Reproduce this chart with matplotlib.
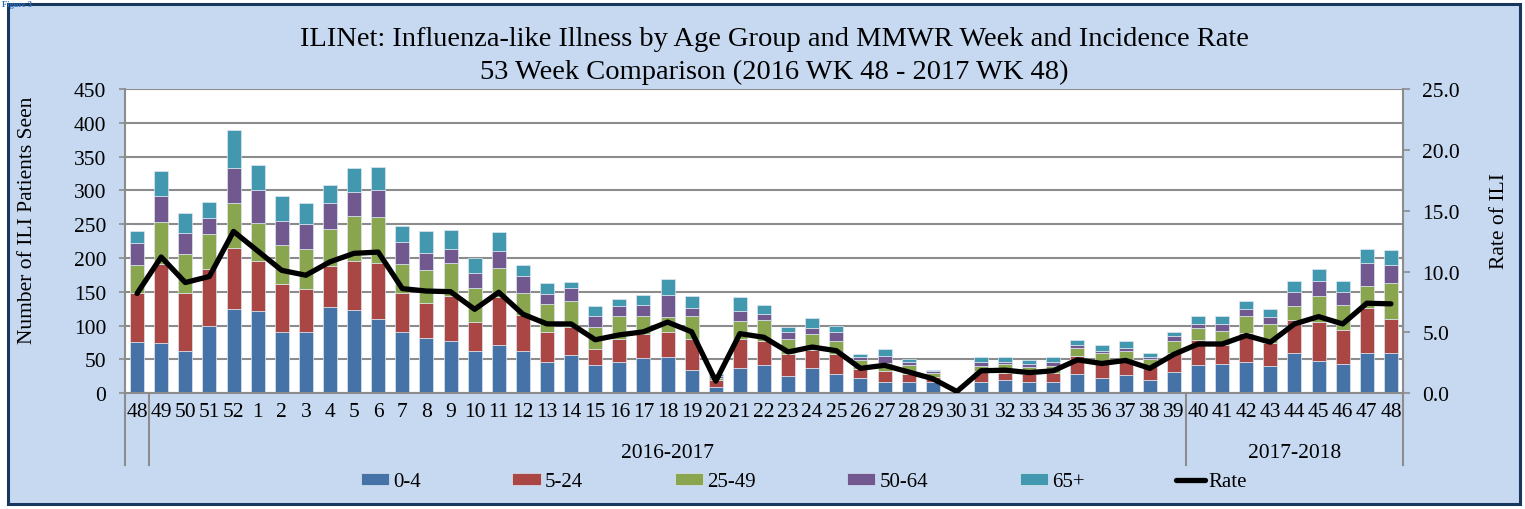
import matplotlib
matplotlib.use("Agg")
import matplotlib.pyplot as plt
import numpy as np
from matplotlib.patches import Rectangle

weeks = ["48", "49", "50", "51", "52"] + [str(i) for i in range(1, 49)]

age_0_4 = [76, 74, 63, 99, 125, 121, 90, 90, 128, 123, 110, 90, 82, 77, 63, 72, 63, 46, 57, 42,
           47, 52, 54, 35, 9, 37, 42, 26, 37, 28, 23, 16, 17, 17, 1, 17, 19, 17, 16, 28,
           22, 27, 19, 31, 42, 44, 46, 40, 59, 48, 43, 60, 60]
age_5_24 = [73, 117, 86, 85, 90, 75, 71, 64, 60, 72, 83, 59, 52, 67, 43, 70, 53, 45, 41, 24,
            34, 36, 36, 45, 10, 44, 36, 32, 27, 30, 13, 17, 11, 7, 1, 16, 11, 11, 14, 27,
            21, 19, 22, 29, 37, 27, 43, 35, 49, 57, 50, 66, 50]
age_25_49 = [41, 62, 57, 51, 66, 56, 58, 59, 55, 67, 68, 42, 49, 48, 49, 43, 32, 41, 39, 32,
             33, 27, 23, 35, 4, 26, 31, 22, 24, 19, 13, 12, 14, 6, 0, 7, 13, 11, 10, 12,
             16, 16, 9, 18, 17, 21, 25, 27, 21, 39, 37, 33, 53]
age_50_64 = [32, 39, 31, 24, 52, 48, 36, 38, 39, 36, 40, 33, 25, 21, 23, 26, 26, 15, 18, 17,
             15, 16, 32, 11, 3, 14, 9, 10, 9, 13, 4, 10, 4, 3, 0, 7, 3, 4, 7, 5,
             4, 5, 4, 7, 7, 10, 10, 11, 21, 22, 20, 34, 27]
age_65_plus = [18, 36, 29, 24, 57, 37, 37, 30, 26, 35, 34, 24, 32, 28, 22, 27, 15, 16, 10, 14,
               10, 15, 24, 18, 2, 21, 12, 8, 14, 10, 5, 11, 4, 2, 0, 6, 8, 6, 7, 7,
               8, 11, 6, 5, 12, 13, 12, 11, 16, 18, 16, 20, 22]
rate = [8.2, 11.2, 9.1, 9.6, 13.3, 11.7, 10.1, 9.7, 10.8, 11.5, 11.6, 8.6, 8.4, 8.35, 6.9, 8.3,
        6.5, 5.7, 5.7, 4.4, 4.8, 5.05, 5.85, 5.05, 1.0, 4.9, 4.6, 3.4, 3.8, 3.5, 2.05, 2.3,
        1.75, 1.2, 0.15, 1.85, 1.9, 1.7, 1.85, 2.75, 2.45, 2.7, 2.05, 3.2, 4.05, 4.05, 4.75,
        4.2, 5.7, 6.3, 5.7, 7.4, 7.35]

series_labels = ["0-4", "5-24", "25-49", "50-64", "65+"]
series_colors = ["#4572A7", "#AA4643", "#89A54E", "#71588F", "#4198AF"]
season_labels = ["", "2016-2017", "2017-2018"]
season_sizes = [1, 43, 9]

plt.rcParams["font.family"] = ["Liberation Serif", "DejaVu Serif"]
W, H = 1525, 510
fig = plt.figure(figsize=(W / 100, H / 100), dpi=100)
fig.patch.set_facecolor("white")
fig.add_artist(Rectangle((8 / W, 5 / H), (1520 - 8) / W, (505 - 5) / H,
                         transform=fig.transFigure, facecolor="#C6D9F1",
                         edgecolor="#17375E", lw=2.2, zorder=-10))
fig.text(0.001, 0.999, "Figure 3", color="#2E6DB4", fontsize=6, fontweight="bold",
         ha="left", va="top")

ax = fig.add_axes([125 / W, 1 - 394.3 / H, (1403 - 125) / W, (394.3 - 90) / H])
ax.set_facecolor("white")
x = np.arange(len(weeks))
bottom = np.zeros(len(weeks))
handles = []
for vals, col, lab in zip([age_0_4, age_5_24, age_25_49, age_50_64, age_65_plus],
                          series_colors, series_labels):
    vals = np.array(vals, dtype=float)
    b = ax.bar(x, vals, 0.58, bottom=bottom, color=col, edgecolor="#DDE6F0",
               linewidth=0.5, label=lab)
    handles.append(b)
    bottom += vals

gray = "#8C8C8C"
ax.set_xlim(-0.5, len(weeks) - 0.5)
ax.set_ylim(0, 450)
ax.set_yticks(range(0, 451, 50))
ax.yaxis.grid(True, color=gray, lw=1.5)
ax.set_axisbelow(True)
ax.set_xticks(x)
ax.set_xticklabels(weeks)
ax.tick_params(axis="x", length=0, pad=6, labelsize=15.5)
ax.tick_params(axis="y", length=4.5, width=1.2, color=gray, pad=9, labelsize=15.5)
for s in ["top", "right"]:
    ax.spines[s].set_visible(False)
for s in ["left", "bottom"]:
    ax.spines[s].set_color(gray)
    ax.spines[s].set_linewidth(1.5)

ax2 = ax.twinx()
ax2.set_ylim(0, 25)
ax2.set_yticks(np.arange(0, 25.1, 5))
ax2.set_yticklabels([f"{v:.1f}" for v in np.arange(0, 25.1, 5)])
ax2.tick_params(axis="y", length=5, width=1.2, color=gray, pad=9, labelsize=15.5)
for s in ["top", "left", "bottom"]:
    ax2.spines[s].set_visible(False)
ax2.spines["right"].set_color(gray)
ax2.spines["right"].set_linewidth(1.5)
line, = ax2.plot(x, rate, color="black", lw=3.8, solid_joinstyle="round",
                 solid_capstyle="round", label="Rate")

# season grouping
trans = ax.get_xaxis_transform()
edges = np.concatenate([[0], np.cumsum(season_sizes)]) - 0.5
for e in edges:
    ax.plot([e, e], [0, -0.235], transform=trans, clip_on=False, color=gray, lw=1.5)
for lab, a, b in zip(season_labels, edges[:-1], edges[1:]):
    ax.text((a + b) / 2, -0.193, lab, transform=trans, ha="center", va="center", fontsize=15.5)

fig.text(774 / W, 1 - 40 / H, "ILINet: Influenza-like Illness by Age Group and MMWR Week and Incidence Rate",
         ha="center", va="center", fontsize=20.5)
fig.text(774 / W, 1 - 72 / H, "53 Week Comparison (2016 WK 48 - 2017 WK 48)",
         ha="center", va="center", fontsize=20.5)
fig.text(28 / W, 1 - 220 / H, "Number of ILI Patients Seen", rotation=90,
         ha="center", va="center", fontsize=15.5)
fig.text(1500 / W, 1 - 221 / H, "Rate of ILI", rotation=90,
         ha="center", va="center", fontsize=15.5)

fig.legend(handles + [line], series_labels + ["Rate"], loc="center",
           bbox_to_anchor=(804 / W, 1 - 483 / H), ncol=6, frameon=False,
           handlelength=1.35, handleheight=0.5, handletextpad=0.2,
           columnspacing=4.4, fontsize=15)

fig.savefig("out.png", dpi=100, facecolor=fig.get_facecolor())
